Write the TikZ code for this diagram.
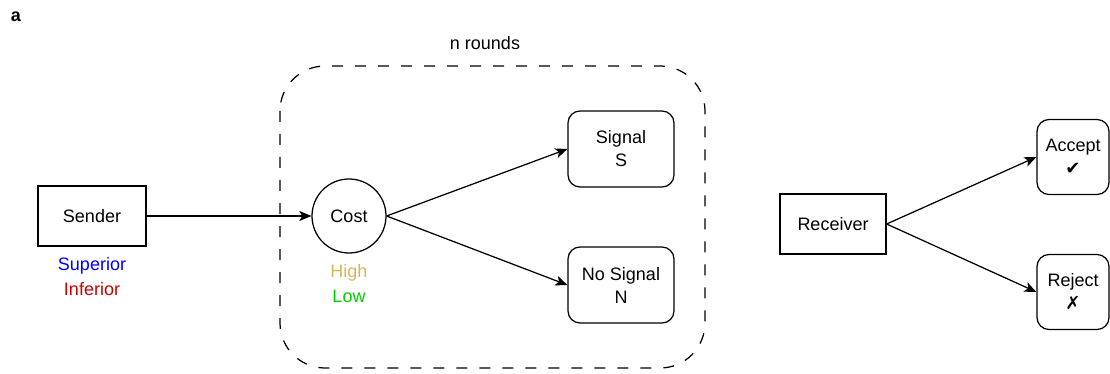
\documentclass[tikz,border=0pt]{standalone}
\usepackage{fontspec}
\setmainfont{Liberation Sans}
\newfontfamily\symfont{DejaVu Sans}
\usetikzlibrary{arrows.meta}
\definecolor{supblue}{HTML}{0000FF}
\definecolor{infred}{HTML}{CC0000}
\definecolor{highgold}{HTML}{D6B656}
\definecolor{lowgreen}{HTML}{00CC00}
\tikzset{
  edge/.style={line width=1.25pt},
  box/.style={draw,edge,minimum width=108pt,minimum height=60pt,inner sep=0pt},
  rbox/.style={draw,edge,rounded corners=12pt,minimum width=106pt,minimum height=76pt,align=center,inner sep=0pt},
  lbl/.style={inner sep=0pt},
}
\begin{document}
\begin{tikzpicture}[x=1pt,y=-1pt,>={Stealth[length=12pt,width=10pt,inset=3pt]},font=\fontsize{18}{23}\selectfont]
  \useasboundingbox (0,0) rectangle (1110,374);
  \node[lbl,font=\fontsize{18}{20}\selectfont\bfseries] (tag) at (16,17) {a};
  \draw[edge,dash pattern=on 11pt off 12pt,rounded corners=45pt] (280,66) rectangle (705,368);
  \node[lbl] (rounds) at (485,43) {n rounds};
  % sender side
  \node[box] (sender) at (92,216) {Sender};
  \node[lbl,text=supblue] (sup) at (92,266) {Superior};
  \node[lbl,text=infred] (inf) at (92,289) {Inferior};
  \node[draw,edge,circle,minimum size=74pt,inner sep=0pt] (cost) at (349,216) {Cost};
  \node[lbl,text=highgold] (high) at (349,273) {High};
  \node[lbl,text=lowgreen] (low) at (349,296) {Low};
  \node[rbox] (sig) at (621,149) {Signal\\S};
  \node[rbox] (nosig) at (621,285) {No Signal\\N};
  \draw[edge,->] (sender) -- (cost);
  \draw[edge,->] (cost.east) -- (sig.west);
  \draw[edge,->] (cost.east) -- (nosig.west);
  % receiver side
  \node[box,minimum width=106pt] (recv) at (833,224) {Receiver};
  \node[rbox,minimum width=72pt,minimum height=75pt] (acc) at (1073,157) {Accept\\{\symfont ✔}};
  \node[rbox,minimum width=72pt,minimum height=75pt] (rej) at (1073,292) {Reject\\{\symfont ✗}};
  \draw[edge,->] (recv.east) -- (acc.west);
  \draw[edge,->] (recv.east) -- (rej.west);
\end{tikzpicture}
\end{document}
